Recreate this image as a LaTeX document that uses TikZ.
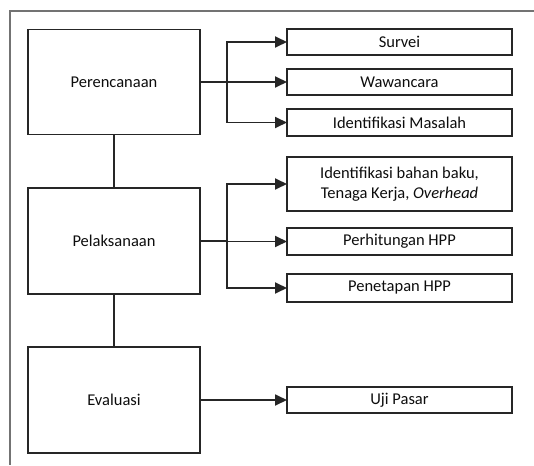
\documentclass[tikz,border=0pt]{standalone}
\usepackage{fontspec}
\setmainfont{Carlito}
\usetikzlibrary{arrows.meta}
\begin{document}
\begin{tikzpicture}[x=1pt,y=-1pt,
  box/.style={draw=black!85,line width=1.8pt,inner sep=0pt,outer sep=0pt,align=center,font=\fontsize{16.5}{19.5}\selectfont,text=black!95},
  bigbox/.style={box,minimum width=172pt,minimum height=105pt},
  smallbox/.style={box,minimum width=225pt},
  link/.style={draw=black!85,line width=1.8pt},
  arr/.style={link,-{Triangle[length=12pt,width=11pt]}}]
\useasboundingbox (0,0) rectangle (534,465);
\draw[draw=black!55,line width=1.8pt] (534,11) -- (10,11) -- (10,465);
% main boxes
\node[bigbox] (per) at (114,82) {Perencanaan};
\node[bigbox,minimum height=106pt] (pel) at (114,241) {Pelaksanaan};
\node[bigbox,minimum height=106pt] (eva) at (114,400) {Evaluasi};
% right boxes
\node[smallbox,minimum height=26pt] (sur) at (399.5,42) {Survei};
\node[smallbox,minimum height=26pt] (waw) at (399.5,82) {Wawancara};
\node[smallbox,minimum height=27pt] (idm) at (399.5,122.5) {Identifikasi Masalah};
\node[smallbox,minimum height=54pt] (bah) at (399.5,184) {Identifikasi bahan baku,\\Tenaga Kerja, \textit{Overhead}};
\node[smallbox,minimum height=27pt] (phi) at (399.5,241.5) {Perhitungan HPP};
\node[smallbox,minimum height=28pt] (pen) at (399.5,288) {Penetapan HPP};
\node[smallbox,minimum height=26pt] (uji) at (399.5,400) {Uji Pasar};
% vertical links
\draw[link] (per.south) -- (pel.north);
\draw[link] (pel.south) -- (eva.north);
% branches
\coordinate (j1) at (227,82);
\coordinate (j2) at (227,241);
\draw[link] (per.east) -- (j1);
\draw[arr] (j1) -- (waw.west);
\draw[arr] (j1) |- (sur.west);
\draw[arr] (j1) |- (idm.west);
\draw[link] (pel.east) -- (j2);
\draw[arr] (j2) |- (bah.west);
\draw[arr] (j2) |- (phi.west);
\draw[arr] (j2) |- (pen.west);
\draw[arr] (eva.east) -- (uji.west);
\end{tikzpicture}
\end{document}
